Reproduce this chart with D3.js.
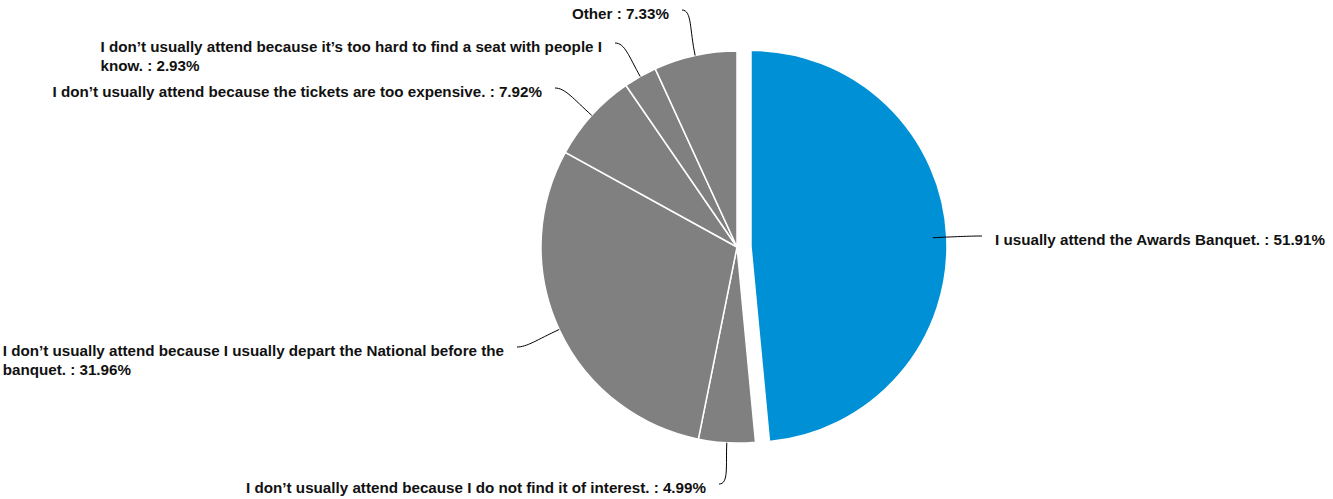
<!doctype html>
<html>
<head>
<script src="https://cdnjs.cloudflare.com/ajax/libs/d3/7.8.5/d3.min.js"></script>
<style>
    body { margin: 0; background: #fff; }
    text { font-family: "Liberation Sans", Arial, sans-serif; font-weight: bold; font-size: 15.2px; fill: #111; }
</style>
</head>
<body>
<svg id="chart" width="1333" height="499"></svg>
<script>
// answers, clockwise from 12 o'clock
var categories = [
    "I usually attend the Awards Banquet.",
    "I don\u2019t usually attend because I do not find it of interest.",
    "I don\u2019t usually attend because I usually depart the National before the banquet.",
    "I don\u2019t usually attend because the tickets are too expensive.",
    "I don\u2019t usually attend because it\u2019s too hard to find a seat with people I know.",
    "Other"
];
var percents = [51.91, 4.99, 31.96, 7.92, 2.93, 7.33];
var colors = ["#0090d6", "#808080", "#808080", "#808080", "#808080", "#808080"];

// layout: where each leader line ends (label sits next to it)
var leaderEnds = [[982, 236], [719, 484], [517, 347], [555, 88], [615, 43], [682, 10]];

var svg = d3.select("#chart"),
    cx = 737, cy = 247, radius = 196, explode = 14, gap = 13, wrapWidth = 520;

var pie = d3.pie().sort(null).value(function(d) { return d; });
var arcs = pie(percents);
var arc = d3.arc().innerRadius(0).outerRadius(radius);

var g = svg.append("g").attr("transform", "translate(" + cx + "," + cy + ")");

function mid(d) { return (d.startAngle + d.endAngle) / 2; }

g.selectAll("path.slice")
    .data(arcs)
    .enter().append("path")
    .attr("class", "slice")
    .attr("d", arc)
    .attr("fill", function(d, i) { return colors[i]; })
    .attr("stroke", "#fff")
    .attr("stroke-width", 1.5)
    .attr("transform", function(d, i) {
        if (i != 0) return null;
        var a = mid(d);
        return "translate(" + (explode * Math.sin(a)) + "," + (-explode * Math.cos(a)) + ")";
    });

// leader lines
svg.selectAll("path.leader")
    .data(arcs)
    .enter().append("path")
    .attr("class", "leader")
    .attr("fill", "none")
    .attr("stroke", "#000")
    .attr("stroke-width", 1)
    .attr("d", function(d, i) {
        var a = mid(d),
            sx = cx + radius * Math.sin(a),
            sy = cy - radius * Math.cos(a),
            e = leaderEnds[i],
            dist = Math.hypot(e[0] - sx, e[1] - sy),
            side = e[0] < sx ? 1 : -1;
        var c1x = sx + Math.sin(a) * dist * 0.55,
            c1y = sy - Math.cos(a) * dist * 0.55,
            c2x = e[0] + side * 10,
            c2y = e[1];
        return "M" + sx + "," + sy + "C" + c1x + "," + c1y + " " + c2x + "," + c2y + " " + e[0] + "," + e[1];
    });

// labels
arcs.forEach(function(d, i) {
    var e = leaderEnds[i],
        left = e[0] < cx + radius * Math.sin(mid(d)),
        full = categories[i] + " : " + percents[i].toFixed(2) + "%";
    var t = svg.append("text");
    // word wrap
    var words = full.split(" "), lines = [], line = [];
    var probe = t.append("tspan");
    words.forEach(function(w) {
        line.push(w);
        probe.text(line.join(" "));
        if (probe.node().getComputedTextLength() > wrapWidth && line.length > 1) {
            line.pop();
            lines.push(line.join(" "));
            line = [w];
        }
    });
    lines.push(line.join(" "));
    probe.remove();

    var spans = lines.map(function(l, k) {
        return t.append("tspan").attr("dy", k == 0 ? 0 : 18.5).text(l);
    });
    var blockW = d3.max(spans, function(s) { return s.node().getComputedTextLength(); });
    var x0 = left ? e[0] - gap - blockW : e[0] + gap;
    spans.forEach(function(s) { s.attr("x", x0); });
    t.attr("y", e[1] + 9);
    spans[0].attr("y", e[1] + 9);
});
</script>
</body>
</html>
